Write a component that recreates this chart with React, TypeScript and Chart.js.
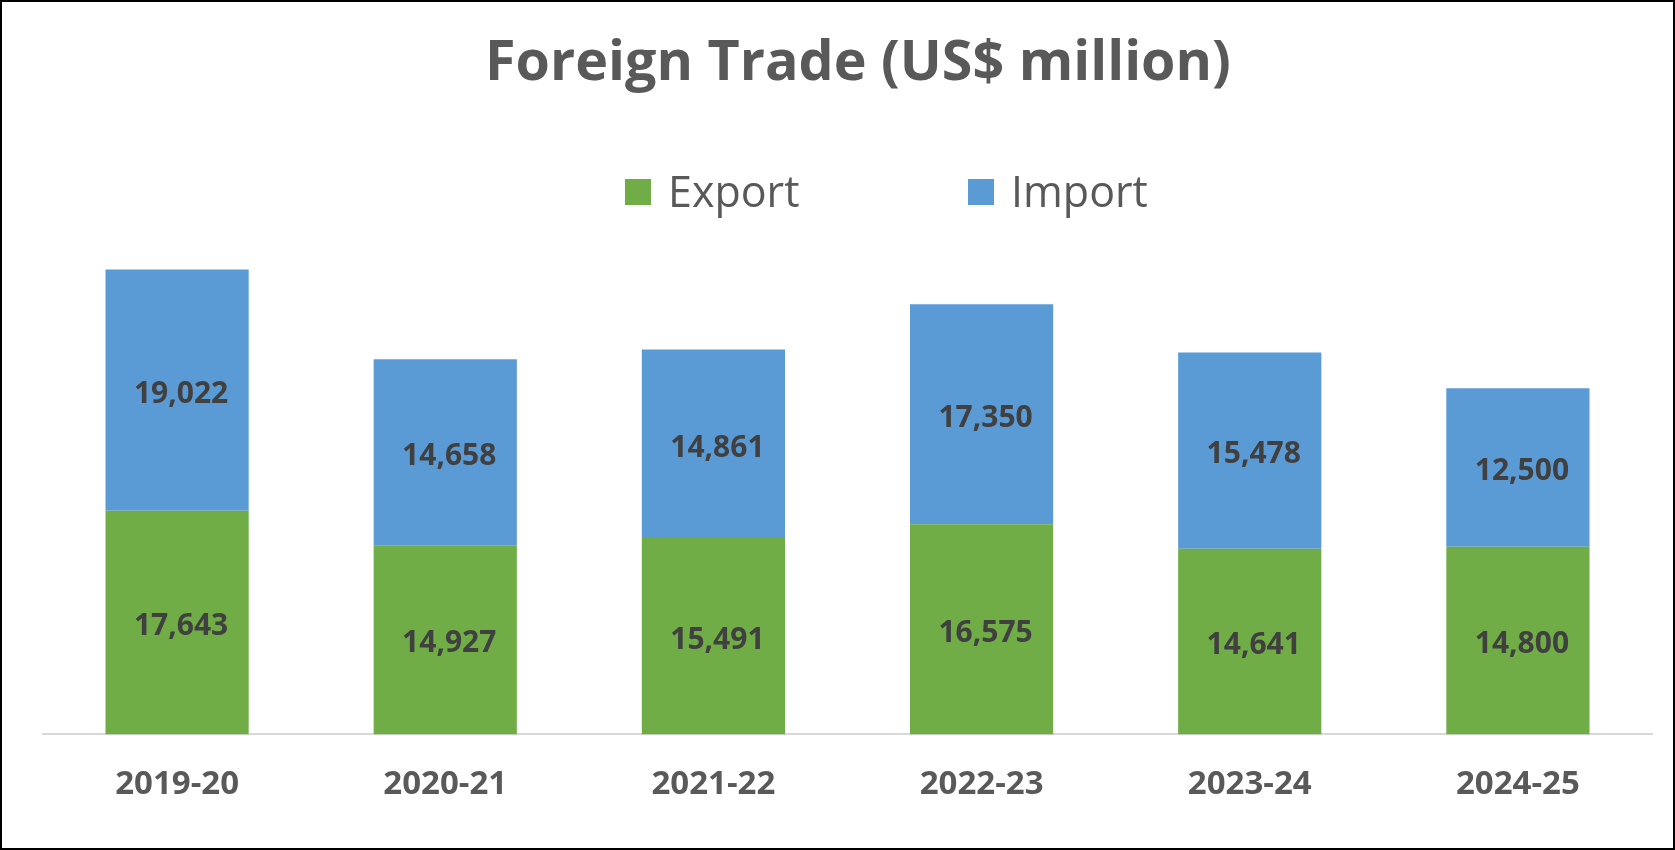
import React, { useEffect, useRef } from "react";
import { Chart, registerables } from "chart.js";

Chart.register(...registerables);

// ---- data ----
const categories = ["2019-20", "2020-21", "2021-22", "2022-23", "2023-24", "2024-25"];
const exportValues = [17643, 14927, 15491, 16575, 14641, 14800];
const importValues = [19022, 14658, 14861, 17350, 15478, 12500];
const seriesNames = ["Export", "Import"];
const seriesColors = ["#70AD47", "#5B9BD5"];
const titleText = "Foreign Trade (US$ million)";
const yMax = 40000;

const FONT = "'Open Sans', sans-serif";

const valueLabels = {
  id: "valueLabels",
  afterDatasetsDraw(chart: any) {
    const ctx = chart.ctx;
    const size = 30;
    ctx.save();
    ctx.font = `bold ${size}px ${FONT}`;
    ctx.fillStyle = "#404040";
    ctx.textAlign = "center";
    ctx.textBaseline = "alphabetic";
    chart.data.datasets.forEach((ds: any, di: number) => {
      const meta = chart.getDatasetMeta(di);
      meta.data.forEach((el: any, i: number) => {
        const { x, y, base } = el.getProps(["x", "y", "base"], true);
        const cy = (y + base) / 2 + 2;
        ctx.fillText(Number(ds.data[i]).toLocaleString("en-US"), x + 4, cy + size * 0.357);
      });
    });
    ctx.restore();
  },
};

const headerPlugin = {
  id: "headerPlugin",
  afterDraw(chart: any) {
    const ctx = chart.ctx;
    const cx = chart.width / 2;
    ctx.save();
    // title
    const tSize = 55.6;
    ctx.font = `bold ${tSize}px ${FONT}`;
    ctx.fillStyle = "#595959";
    ctx.textAlign = "center";
    ctx.textBaseline = "alphabetic";
    ctx.fillText(titleText, cx + 20.5, 57.8 + tSize * 0.357);
    // legend
    const offsets = [-212.5, 130.5];
    const boxSize = 26;
    const cy = 190;
    const size = 43;
    ctx.font = `${size}px ${FONT}`;
    ctx.textAlign = "left";
    chart.data.datasets.forEach((ds: any, i: number) => {
      const x = cx + offsets[i];
      ctx.fillStyle = ds.backgroundColor;
      ctx.fillRect(x, cy - boxSize / 2, boxSize, boxSize);
      ctx.fillStyle = "#595959";
      ctx.fillText(ds.label, x + boxSize + 17, cy + size * 0.357);
    });
    ctx.restore();
  },
};

export default function App() {
  const canvasRef = useRef<HTMLCanvasElement | null>(null);

  useEffect(() => {
    document.body.style.margin = "0";
    const canvas = canvasRef.current;
    if (!canvas) return;
    const chart = new Chart(canvas, {
      type: "bar",
      data: {
        labels: categories,
        datasets: [
          {
            label: seriesNames[0],
            data: exportValues,
            backgroundColor: seriesColors[0],
            barPercentage: 0.534,
            categoryPercentage: 1,
          },
          {
            label: seriesNames[1],
            data: importValues,
            backgroundColor: seriesColors[1],
            barPercentage: 0.534,
            categoryPercentage: 1,
          },
        ],
      },
      options: {
        responsive: false,
        animation: false,
        devicePixelRatio: 1,
        layout: { padding: { left: 41, right: 21, top: 225.3, bottom: 22 } },
        plugins: {
          legend: { display: false },
          tooltip: { enabled: false },
          title: { display: false },
        },
        scales: {
          x: {
            stacked: true,
            grid: { display: false },
            border: { display: true, color: "#D9D9D9", width: 2 },
            ticks: {
              color: "#595959",
              font: { family: FONT, size: 33, weight: "bold" },
              padding: 22,
            },
          },
          y: { stacked: true, display: false, min: 0, max: yMax },
        },
      },
      plugins: [valueLabels, headerPlugin],
    } as any);
    return () => chart.destroy();
  }, []);

  return (
    <div
      style={{
        width: 1675,
        height: 850,
        boxSizing: "border-box",
        border: "2px solid #000",
        background: "#fff",
      }}
    >
      <canvas ref={canvasRef} width={1671} height={846} style={{ display: "block" }} />
    </div>
  );
}
